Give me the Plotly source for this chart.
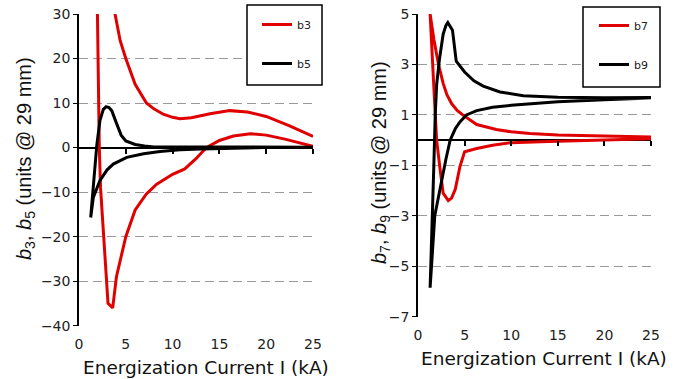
import plotly.graph_objects as go

# ---------------- data ----------------
# Left panel: b3 and b5 versus energization current I (kA)
b3_upper_I = [3.3, 3.85, 4.4, 5.0, 6.0, 7.2, 8.0, 9.0, 10.0, 10.8, 12.0, 14.0, 16.1, 18.0, 20.0, 22.5, 25.0]
b3_upper = [40, 30, 24, 20, 14.2, 10, 8.7, 7.5, 6.8, 6.5, 6.7, 7.6, 8.3, 8.0, 7.0, 4.9, 2.5]
b3_lower_I = [1.9, 1.97, 2.07, 2.17, 2.3, 3.1, 3.6, 4.0, 5.0, 6.0, 7.2, 8.3, 10.0, 11.3, 12.5, 13.6, 15.0, 16.5, 18.3, 20.0, 22.0, 24.0, 25.0]
b3_lower = [42, 30, 6, 0, -9, -35, -36, -29, -20, -14, -10.4, -8.2, -6.0, -4.8, -2.5, 0, 1.6, 2.6, 3.1, 2.8, 1.9, 0.8, 0.3]

b5_upper_I = [1.25, 1.6, 1.9, 2.24, 2.6, 2.9, 3.2, 3.5, 4.0, 4.5, 5.0, 6.0, 7.0, 8.0, 10.0, 15.0, 20.0, 25.0]
b5_upper = [-15.7, -7, 0.5, 6.1, 8.6, 9.2, 9.0, 8.3, 5.5, 2.8, 1.5, 0.7, 0.35, 0.15, 0.05, 0.05, 0.1, 0.1]
b5_lower_I = [1.25, 1.53, 2.24, 3.0, 3.66, 5.1, 6.9, 8.65, 10.8, 13.0, 16.0, 20.0, 25.0]
b5_lower = [-15.7, -11.2, -7.4, -5.0, -3.7, -2.2, -1.4, -0.9, -0.5, -0.3, -0.15, 0.0, 0.1]

# Right panel: b7 and b9 versus energization current I (kA)
b7_upper_I = [1.3, 1.7, 2.2, 2.7, 3.1, 3.6, 4.2, 4.8, 6.3, 8.4, 10.0, 12.0, 15.0, 20.0, 25.0]
b7_upper = [5.0, 4.0, 3.0, 2.25, 1.8, 1.45, 1.18, 1.0, 0.62, 0.42, 0.33, 0.26, 0.2, 0.15, 0.12]
b7_lower_I = [1.3, 1.7, 2.0, 2.35, 2.7, 3.25, 3.6, 4.0, 4.5, 5.0, 6.3, 8.0, 10.0, 14.0, 20.0, 25.0]
b7_lower = [5.0, 2.1, 0.0, -1.1, -2.1, -2.4, -2.3, -1.95, -1.05, -0.46, -0.33, -0.2, -0.1, -0.05, 0.0, 0.05]

b9_upper_I = [1.3, 1.5, 1.7, 1.85, 2.0, 2.3, 2.7, 3.0, 3.2, 3.7, 4.1, 5.0, 6.0, 7.0, 8.8, 11.3, 15.0, 20.0, 25.0]
b9_upper = [-5.85, -3.5, -1.0, 1.0, 2.2, 3.2, 4.2, 4.55, 4.66, 4.36, 3.13, 2.7, 2.35, 2.14, 1.91, 1.76, 1.7, 1.68, 1.69]
b9_lower_I = [1.3, 1.8, 2.3, 2.7, 3.0, 3.45, 4.0, 4.5, 5.2, 6.3, 8.0, 10.0, 12.5, 15.0, 20.0, 25.0]
b9_lower = [-5.85, -3.0, -2.0, -1.3, -0.75, 0.0, 0.45, 0.72, 1.0, 1.17, 1.3, 1.38, 1.46, 1.52, 1.6, 1.67]

x_ticks = [0, 5, 10, 15, 20, 25]
left_y_ticks = [-40, -30, -20, -10, 0, 10, 20, 30]
right_y_ticks = [-7, -5, -3, -1, 1, 3, 5]
left_y_range = [-40, 30]
right_y_range = [-7, 5]
x_range = [0, 25]

RED = "#e00000"
BLACK = "#000000"
W, H = 694, 379
FONT = "DejaVu Sans"


def fx(px):
    return px / W


def fy(py):
    return 1 - py / H


def loop(up_x, up_y, lo_x, lo_y):
    # one continuous hysteresis path: upper branch back to the start, then lower branch out
    return list(reversed(up_x)) + list(lo_x), list(reversed(up_y)) + list(lo_y)


fig = go.Figure()

for name, ux, uy, lx, ly, col, xa, ya, lg in [
    ("b3", b3_upper_I, b3_upper, b3_lower_I, b3_lower, RED, "x", "y", "legend"),
    ("b5", b5_upper_I, b5_upper, b5_lower_I, b5_lower, BLACK, "x", "y", "legend"),
    ("b7", b7_upper_I, b7_upper, b7_lower_I, b7_lower, RED, "x2", "y2", "legend2"),
    ("b9", b9_upper_I, b9_upper, b9_lower_I, b9_lower, BLACK, "x2", "y2", "legend2"),
]:
    xs, ys = loop(ux, uy, lx, ly)
    fig.add_trace(go.Scatter(
        x=xs, y=ys, mode="lines", name=name, legendgroup=name, legend=lg,
        line=dict(color=col, width=3), xaxis=xa, yaxis=ya,
    ))

# invisible helpers so the zero-crossing tick axes get drawn
fig.add_trace(go.Scatter(x=[None], y=[None], xaxis="x3", yaxis="y", showlegend=False, hoverinfo="skip"))
fig.add_trace(go.Scatter(x=[None], y=[None], xaxis="x4", yaxis="y2", showlegend=False, hoverinfo="skip"))

L_dom_x = [fx(79), fx(313)]
L_dom_y = [fy(325.7), fy(14)]
R_dom_x = [fx(418), fx(651)]
R_dom_y = [fy(316.7), fy(14)]

pos_left = L_dom_y[0] + (0 - left_y_range[0]) / (left_y_range[1] - left_y_range[0]) * (L_dom_y[1] - L_dom_y[0])
pos_right = R_dom_y[0] + (0 - right_y_range[0]) / (right_y_range[1] - right_y_range[0]) * (R_dom_y[1] - R_dom_y[0])

tickfont = dict(family=FONT, size=14, color="#222222")

xbase = dict(range=x_range, tickvals=x_ticks, showgrid=False, zeroline=False, showline=False,
             ticks="", tickfont=tickfont, ticklabelstandoff=8, automargin=False)
ybase = dict(showgrid=True, gridcolor="#9a9a9a", gridwidth=1, griddash="9px,5px",
             zeroline=True, zerolinecolor="black", zerolinewidth=1.5,
             showline=True, linecolor="black", linewidth=1.5, automargin=False,
             ticks="outside", ticklen=4, tickcolor="black", tickwidth=1.2, tickfont=tickfont)
tickaxis = dict(range=x_range, tickvals=x_ticks[1:], ticks="outside", ticklen=5, tickwidth=1.5,
                tickcolor="black", showticklabels=False, showgrid=False, zeroline=False,
                showline=False, anchor="free", side="bottom", automargin=False)

fig.update_layout(
    template="none",
    width=W, height=H,
    margin=dict(l=0, r=0, t=0, b=0, pad=0, autoexpand=False),
    paper_bgcolor="white", plot_bgcolor="white",
    hovermode=False,
    xaxis=dict(domain=L_dom_x, anchor="y", **xbase),
    yaxis=dict(domain=L_dom_y, anchor="x", range=left_y_range, tickvals=left_y_ticks, **ybase),
    xaxis2=dict(domain=R_dom_x, anchor="y2", **xbase),
    yaxis2=dict(domain=R_dom_y, anchor="x2", range=right_y_range, tickvals=right_y_ticks, **ybase),
    xaxis3=dict(overlaying="x", position=pos_left, **tickaxis),
    xaxis4=dict(overlaying="x2", position=pos_right, **tickaxis),
    legend=dict(x=fx(257), y=fy(10), xanchor="left", yanchor="top",
                bgcolor="rgba(0,0,0,0)", borderwidth=0, traceorder="grouped", tracegroupgap=20,
                font=dict(family=FONT, size=11, color="#222222")),
    legend2=dict(x=fx(594), y=fy(11), xanchor="left", yanchor="top",
                 bgcolor="rgba(0,0,0,0)", borderwidth=0, traceorder="grouped", tracegroupgap=20,
                 font=dict(family=FONT, size=11, color="#222222")),
    showlegend=True,
)

# legend frames
for x0, y0, x1, y1 in [(247, 5, 322, 85), (583, 7, 660, 87)]:
    fig.add_shape(type="rect", xref="paper", yref="paper",
                  x0=fx(x0), x1=fx(x1), y0=fy(y1), y1=fy(y0),
                  line=dict(color="black", width=1.5), fillcolor="white", layer="above")

ytitle_font = dict(family="Liberation Sans", size=20, color="#111111")
xtitle_font = dict(family=FONT, size=18.5, color="#111111")
common = dict(xref="paper", yref="paper", showarrow=False, xanchor="center", yanchor="middle")
fig.add_annotation(x=fx(25), y=fy(159), textangle=-90,
                   text="<i>b</i><sub>3</sub>, <i>b</i><sub>5</sub> (units @ 29 mm)", font=ytitle_font, **common)
fig.add_annotation(x=fx(380), y=fy(162), textangle=-90,
                   text="<i>b</i><sub>7</sub>, <i>b</i><sub>9</sub> (units @ 29 mm)", font=ytitle_font, **common)
fig.add_annotation(x=fx(206), y=fy(367), text="Energization Current I (kA)", font=xtitle_font, **common)
fig.add_annotation(x=fx(544), y=fy(358), text="Energization Current I (kA)", font=xtitle_font, **common)

fig.write_html("out.html", config={"displayModeBar": False},
               post_script="document.body.style.margin='0px';")
